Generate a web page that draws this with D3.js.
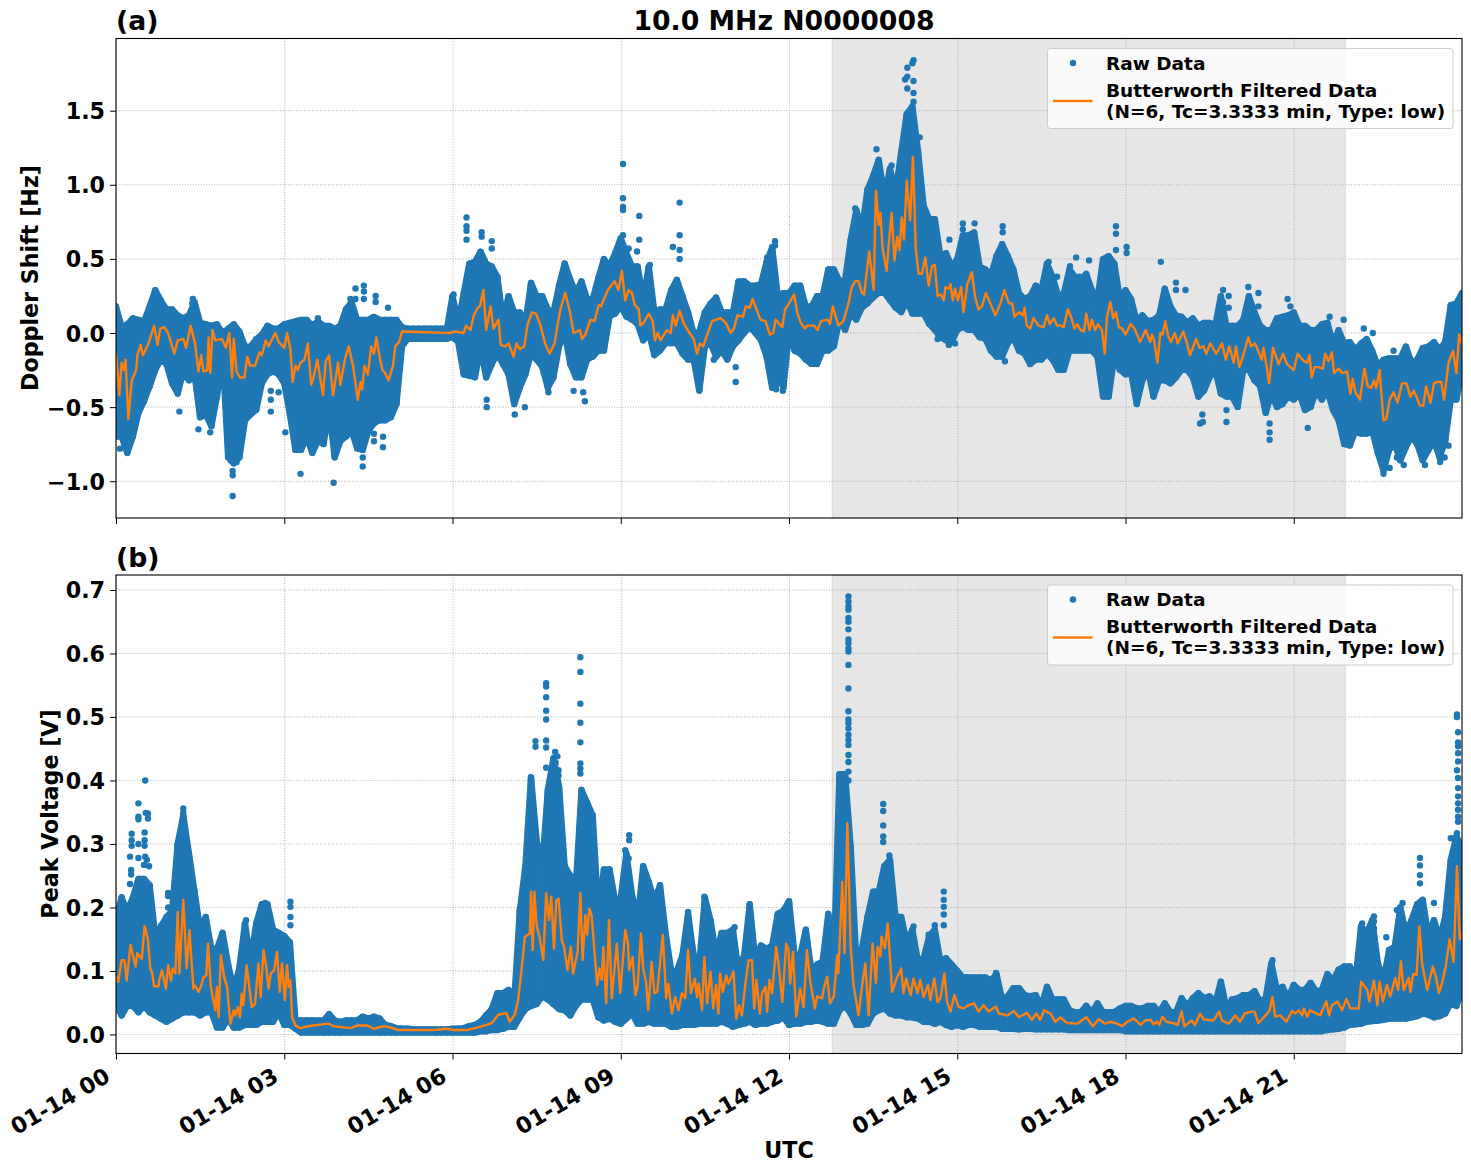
<!DOCTYPE html>
<html>
<head>
<meta charset="utf-8">
<script src="https://cdn.jsdelivr.net/npm/d3@7"></script>
<style>
  html, body { margin: 0; padding: 0; background: #fff; }
  svg { display: block; }
  text { font-family: "DejaVu Sans", sans-serif; font-weight: bold; fill: #000; }
</style>
</head>
<body>
<svg id="chart" width="1471" height="1172"></svg>
<script>
// Time axis, in hours after 01-14 00:00 UTC.
const xTickHours = [0, 3, 6, 9, 12, 15, 18, 21];
const xTickLabels = ["01-14 00", "01-14 03", "01-14 06", "01-14 09", "01-14 12", "01-14 15", "01-14 18", "01-14 21"];
const binStepHours = 0.1;
const shadedHours = [12.77, 21.92];

const dopplerTicks = [-1.0, -0.5, 0.0, 0.5, 1.0, 1.5];
const voltageTicks = [0.0, 0.1, 0.2, 0.3, 0.4, 0.5, 0.6, 0.7];

// Edges of the raw Doppler cloud, one value per 0.1 h bin (Hz).
const dopplerTop = [
  .20,.06,.08,.12,.11,.10,.20,.31,.24,.18,
  .18,.14,.12,.14,.23,.09,.08,.07,.08,.02,
  .05,.08,.03,-.07,-.07,-.02,.01,.07,.05,.05,
  .08,.09,.10,.11,.11,.07,.10,.07,.07,.05,
  .07,.18,.23,.11,.11,.11,.13,.11,.11,.11,
  .11,.06,.05,.05,.05,.05,.05,.05,.05,.05,
  .27,.09,.29,.49,.50,.57,.49,.47,.40,.11,
  .27,.16,.16,.09,.36,.27,.27,.18,.16,.34,
  .49,.38,.29,.37,.25,.25,.39,.52,.47,.56,
  .66,.56,.47,.47,.25,.47,.16,.18,.18,.31,
  .38,.27,.16,.02,.03,.16,.22,.26,.16,.16,
  .16,.37,.37,.34,.34,.35,.50,.60,.27,.29,
  .29,.34,.34,.20,.20,.27,.27,.45,.45,.37,
  .38,.65,.85,.72,.99,1.08,1.19,.94,1.13,.97,
  1.24,1.50,1.55,1.25,.88,.79,.79,.54,.56,.47,
  .52,.68,.68,.70,.47,.45,.41,.54,.62,.54,
  .45,.29,.25,.27,.34,.31,.49,.40,.27,.29,
  .45,.40,.38,.42,.31,.25,.52,.54,.49,.25,
  .31,.25,.10,.14,.10,.11,.14,.32,.20,.14,
  .13,.09,.12,.07,.09,.09,.07,.27,.07,.07,
  .07,.11,.27,.16,.07,.04,.04,.12,.13,.14,
  .16,.07,.07,.04,.04,.08,.09,-.05,.04,-.05,
  -.04,-.09,-.05,-.02,-.10,-.20,-.16,-.15,-.15,-.15,
  -.07,-.18,-.16,-.08,-.07,-.04,-.09,-.04,.21,.22,
  .29];
const dopplerBottom = [
  -.72,-.72,-.83,-.72,-.56,-.48,-.38,-.27,-.20,-.23,
  -.36,-.43,-.28,-.34,-.30,-.59,-.57,-.65,-.45,-.16,
  -.86,-.90,-.86,-.61,-.57,-.54,-.36,-.30,-.28,-.30,
  -.36,-.57,-.81,-.81,-.72,-.83,-.75,-.77,-.54,-.86,
  -.75,-.72,-.68,-.80,-.81,-.68,-.63,-.61,-.61,-.59,
  -.50,-.11,-.06,-.06,-.06,-.06,-.06,-.06,-.06,-.06,
  -.05,-.08,-.30,-.31,-.32,-.12,-.32,-.23,-.16,-.23,
  -.30,-.50,-.39,-.30,-.16,-.20,-.25,-.39,-.32,-.11,
  -.02,-.23,-.32,-.32,-.20,-.18,-.14,-.14,.09,.11,
  .16,.09,.07,.04,-.07,-.02,-.17,-.14,-.09,-.09,
  -.09,-.16,-.20,-.20,-.41,-.11,-.09,-.18,-.14,-.20,
  -.11,-.07,-.02,.02,-.02,-.07,-.18,-.39,-.30,-.39,
  -.02,-.14,-.16,-.20,-.23,-.23,-.14,-.14,-.11,.07,
  0,.11,.07,.15,.18,.22,.25,.25,.20,.15,
  .12,.20,.11,.11,.11,.04,0,-.05,-.07,-.08,
  0,.02,0,0,-.05,-.06,-.14,-.18,-.18,-.09,
  -.05,-.14,-.16,-.23,-.20,-.20,-.16,-.20,-.27,-.27,
  -.14,-.14,-.14,-.14,-.14,-.18,-.45,-.45,-.18,-.27,
  -.30,-.29,-.50,-.34,-.27,-.45,-.34,-.34,-.36,-.32,
  -.27,-.27,-.32,-.45,-.41,-.32,-.27,-.43,-.45,-.45,
  -.52,-.27,-.27,-.34,-.38,-.56,-.43,-.52,-.50,-.45,
  -.47,-.43,-.54,-.52,-.41,-.47,-.41,-.54,-.61,-.77,
  -.78,-.68,-.70,-.70,-.68,-.83,-.95,-.81,-.77,-.88,
  -.79,-.72,-.77,-.88,-.81,-.75,-.86,-.75,-.47,-.47,
  -.27];

// Edges of the raw peak-voltage cloud, one value per 0.1 h bin (V).
const voltageTop = [
  .19,.22,.20,.22,.25,.25,.24,.16,.175,.19,
  .20,.305,.35,.29,.23,.17,.19,.14,.14,.165,
  .115,.075,.11,.18,.12,.18,.21,.21,.17,.165,
  .16,.15,.027,.027,.027,.027,.027,.027,.037,.027,
  .025,.027,.027,.027,.033,.03,.033,.03,.02,.018,
  .015,.014,.014,.013,.013,.013,.013,.013,.013,.013,
  .014,.014,.015,.018,.02,.025,.035,.045,.07,.07,
  .075,.057,.20,.27,.41,.31,.27,.39,.44,.395,
  .27,.255,.24,.39,.37,.35,.195,.265,.265,.215,
  .22,.29,.225,.185,.27,.245,.215,.24,.165,.105,
  .105,.13,.195,.13,.115,.22,.185,.13,.165,.165,
  .17,.105,.13,.21,.12,.145,.14,.145,.195,.20,
  .215,.13,.13,.17,.105,.115,.12,.195,.12,.415,
  .415,.30,.12,.14,.19,.23,.23,.27,.28,.19,
  .19,.15,.17,.12,.125,.16,.17,.12,.125,.115,
  .105,.095,.095,.095,.095,.095,.09,.10,.06,.065,
  .078,.078,.067,.065,.067,.05,.08,.06,.06,.06,
  .043,.04,.04,.05,.04,.054,.04,.04,.04,.046,
  .05,.05,.046,.046,.05,.05,.04,.054,.04,.04,
  .062,.05,.062,.07,.062,.065,.054,.088,.046,.06,
  .062,.067,.067,.073,.057,.062,.117,.075,.08,.062,
  .083,.075,.075,.086,.073,.075,.10,.09,.107,.112,
  .112,.09,.175,.165,.185,.117,.09,.138,.143,.205,
  .165,.185,.21,.217,.16,.185,.155,.19,.28,.317,
  .30];
const voltageBottom = [
  .043,.025,.04,.04,.03,.04,.03,.025,.02,.015,
  .02,.025,.03,.03,.03,.025,.03,.03,.006,.006,
  .02,.006,.006,.01,.01,.01,.015,.015,.015,.03,
  .01,.01,.004,-.002,-.002,-.002,-.002,-.002,-.002,-.002,
  -.002,-.002,-.002,-.002,-.002,-.002,-.002,-.002,-.002,-.002,
  -.002,-.002,-.002,-.002,-.002,-.002,-.002,-.002,-.002,-.002,
  -.002,-.002,-.002,-.002,-.002,0,0,.002,.002,.004,
  .007,.007,.022,.035,.04,.043,.055,.05,.043,.035,
  .033,.025,.04,.05,.05,.05,.022,.017,.02,.015,
  .012,.02,.028,.012,.012,.015,.012,.012,.012,.007,
  .007,.01,.01,.01,.012,.012,.012,.012,.015,.012,
  .007,.01,.012,.015,.01,.012,.012,.015,.017,.022,
  .01,.012,.012,.015,.015,.017,.015,.012,.012,.033,
  .04,.028,.01,.01,.012,.028,.033,.036,.028,.025,
  .025,.022,.022,.02,.015,.015,.012,.015,.01,.007,
  .01,.007,.01,.01,.007,.007,.007,.007,.004,.004,
  .004,.003,.004,.004,.003,.003,.003,.003,.003,.003,
  .002,.002,.002,.002,.002,.002,.002,.002,.002,.002,
  0,0,0,0,0,0,0,0,0,0,
  0,0,0,0,0,0,0,0,0,0,
  0,0,0,0,0,0,0,0,0,0,
  0,0,0,0,0,0,.002,.003,.004,.006,
  .01,.011,.012,.015,.016,.017,.018,.02,.02,.02,
  .02,.022,.024,.028,.026,.022,.024,.028,.045,.04,
  .065];

// Isolated raw samples standing clear of the cloud: [hour, Hz].
const dopplerSingles = [
  [2.08,-1.10],[3.29,-.95],[3.88,-1.01],[4.40,-.90],[4.40,-.84],[4.76,-.77],[4.60,-.68],[4.60,-.73],[4.76,-.70],
  [1.47,-.65],[1.68,-.67],[1.13,-.53],[.07,-.78],[2.08,-.96],[2.08,-.93],[2.15,-.87],[2.05,-.86],[3.02,-.67],
  [4.42,.32],[4.42,.28],[4.42,.23],[4.27,.30],[4.27,.23],[4.18,.23],[4.63,.25],[4.63,.21],[4.85,.17],[1.37,.23],
  [1.36,.20],[6.02,.26],[6.02,.20],[2.76,-.39],[2.90,-.40],[2.76,-.45],[2.76,-.53],[3.60,.10],
  [6.25,.78],[6.25,.72],[6.25,.69],[6.25,.63],[6.52,.68],[6.52,.65],[6.70,.62],[6.70,.57],[6.61,-.45],[6.61,-.50],
  [7.11,-.45],[7.11,-.55],[7.29,-.50],[7.71,-.40],[8.16,-.39],[8.33,-.40],[8.36,-.46],[9.04,1.14],[9.04,.91],
  [9.04,.85],[9.04,.83],[9.04,.66],[9.33,.79],[9.33,.63],[9.29,.55],[9.14,.57],[10.05,.88],[10.05,.66],[10.05,.56],
  [9.93,.58],[10.05,.50],[9.52,.46],[11.75,.62],[11.75,.59],[11.61,.51],[11.61,.48],[11.05,-.33],[11.05,-.23],
  [11.77,-.35],[11.77,-.38],[11.89,-.34],[11.89,-.39],[11.64,-.23],[10.66,-.18],
  [17.83,.72],[17.83,.67],[17.83,.56],[18.02,.58],[18.02,.54],[17.12,.51],[17.01,.45],[17.35,.49],[17.18,.38],
  [17.18,.31],[15.85,-.19],[14.33,1.32],[14.65,-.04],[14.85,-.08],[14.96,-.07],[15.81,.72],[15.81,.68],[15.31,.74],
  [15.10,.74],[15.10,.70],[14.86,.63],[16.63,.48],[16.78,.38],[14.22,1.84],[14.20,1.82],[14.11,1.79],[14.07,1.71],
  [14.11,1.73],[14.22,1.70],[14.22,1.62],[14.22,1.56],[14.11,1.65],[13.56,1.24],[13.83,1.13],[13.18,.84],[13.18,.77],
  [18.63,.48],[18.90,.34],[18.90,.29],[19.07,.29],[19.74,.29],[19.74,.21],[19.84,.25],[19.84,.17],[20.89,.23],
  [20.94,.18],[20.19,.31],[20.37,.27],[20.37,.18],[21.64,.11],[21.89,.09],[22.25,.03],[22.41,0],[22.78,-.12],
  [20.57,-.72],[20.57,-.67],[20.57,-.61],[21.25,-.64],[19.80,-.52],[19.80,-.60],[19.37,-.55],[19.33,-.61],[19.38,-.60],
  [22.71,-.91],[22.60,-.95],[22.96,-.89],[23.34,-.89],[23.61,-.87],[23.76,-.76],[23.69,-.84],[22.84,-.84]
];

// Isolated raw samples above the voltage cloud: [hour, V].
const voltageSingles = [
  [.52,.40],[.40,.364],[.40,.343],[.40,.339],[.53,.349],[.57,.348],[.57,.34],[.28,.316],[.28,.306],[.28,.297],
  [.40,.30],[.51,.318],[.51,.306],[.51,.297],[.25,.28],[.40,.278],[.27,.259],[.27,.252],[.25,.237],[.52,.28],
  [.55,.275],[.50,.267],[.59,.265],[.10,.216],[.10,.209],[1.20,.356],[1.20,.349],[1.20,.333],[1.17,.325],
  [1.10,.298],[1.10,.285],[.93,.223],[.93,.218],[.93,.20],[.81,.172],[3.11,.209],[3.11,.201],[3.11,.185],[3.11,.172],
  [2.66,.207],[2.63,.20],[2.32,.18],
  [8.28,.594],[8.28,.571],[8.28,.521],[8.28,.491],[8.28,.46],[8.28,.427],[8.28,.419],[8.28,.411],[7.67,.553],[7.67,.548],
  [7.67,.531],[7.67,.51],[7.67,.496],[7.67,.463],[7.67,.452],[7.48,.462],[7.48,.453],[7.83,.445],[7.87,.438],[7.84,.428],
  [7.67,.42],[7.79,.407],[7.89,.416],[7.89,.408],[9.15,.314],[9.15,.306],[9.08,.29],[9.14,.277],[10.49,.217],[10.49,.198],
  [11.03,.169],[10.20,.193],
  [13.06,.69],[13.06,.682],[13.06,.674],[13.06,.669],[13.06,.656],[13.06,.65],[13.06,.638],[13.06,.622],[13.06,.616],
  [13.06,.608],[13.06,.603],[13.06,.582],[13.06,.545],[13.06,.509],[13.06,.496],[13.06,.49],[13.06,.482],[13.06,.472],
  [13.06,.464],[13.06,.456],[13.06,.44],[13.06,.429],[13.06,.414],[13.06,.40],
  [13.68,.363],[13.68,.352],[13.68,.329],[13.68,.312],[13.68,.303],[13.79,.282],[14.76,.225],[14.76,.212],[14.76,.201],
  [14.76,.189],[14.76,.172],[14.60,.172],[14.60,.162],[14.49,.157],[14.22,.17],[15.69,.097],[15.18,.09],
  [23.91,.504],[23.91,.50],[23.93,.476],[23.93,.46],[23.93,.454],[23.93,.443],[23.93,.43],[23.91,.416],[23.93,.404],
  [23.93,.388],[23.93,.375],[23.93,.364],[23.93,.354],[23.93,.343],[23.93,.335],[23.91,.317],[23.80,.309],[23.25,.278],
  [23.25,.266],[23.25,.251],[23.25,.238],[23.50,.207],[22.94,.207],[22.84,.196],[22.43,.186],[22.43,.178],[22.43,.167],
  [22.22,.175],[22.65,.153],[20.62,.117]
];

// Butterworth low-pass output for the Doppler shift: [hour, Hz].
const dopplerFiltered = [
  [0,-.14],[.06,-.42],[.10,-.20],[.14,-.25],[.17,-.18],[.22,-.58],[.28,-.32],[.36,-.25],[.38,-.15],[.44,-.08],[.48,-.15],
  [.58,-.07],[.68,.05],[.74,-.08],[.79,.03],[.86,.04],[.93,0],[1.04,-.14],[1.10,-.05],[1.20,-.04],[1.25,-.10],[1.33,.05],
  [1.41,-.07],[1.47,-.26],[1.52,-.15],[1.56,-.26],[1.63,-.25],[1.65,-.03],[1.68,-.27],[1.72,.02],[1.77,-.05],[1.89,-.04],
  [1.96,-.10],[2.02,0],[2.07,-.30],[2.10,-.04],[2.15,-.26],[2.21,-.30],[2.29,-.30],[2.34,-.16],[2.39,-.22],[2.48,-.22],
  [2.56,-.13],[2.60,-.15],[2.67,-.05],[2.72,-.09],[2.84,0],[2.90,-.06],[3.00,-.10],[3.05,0],[3.11,-.11],[3.15,-.33],
  [3.20,-.22],[3.24,-.25],[3.29,-.20],[3.36,-.18],[3.42,-.07],[3.48,-.35],[3.52,-.30],[3.59,-.18],[3.69,-.42],[3.74,-.19],
  [3.80,-.15],[3.87,-.42],[3.96,-.20],[4.00,-.35],[4.08,-.18],[4.15,-.09],[4.23,-.23],[4.31,-.45],[4.36,-.33],[4.39,-.38],
  [4.43,-.22],[4.49,-.28],[4.55,-.09],[4.60,-.14],[4.64,-.03],[4.70,-.16],[4.75,-.25],[4.80,-.27],[4.86,-.32],[4.94,-.22],
  [4.98,-.09],[5.05,-.06],[5.10,.01],[5.95,0],[6.04,.01],[6.20,0],[6.24,.05],[6.32,.02],[6.38,.12],[6.45,.17],[6.49,.18],
  [6.55,.29],[6.60,.02],[6.68,.18],[6.73,.03],[6.82,.09],[6.86,-.08],[6.94,-.09],[7.00,-.07],[7.09,-.16],[7.14,-.07],
  [7.20,-.11],[7.28,-.09],[7.34,.06],[7.42,.14],[7.49,.13],[7.57,.05],[7.65,-.07],[7.73,-.14],[7.82,-.07],[7.88,.07],
  [7.93,.17],[8.01,.27],[8.09,.15],[8.16,0],[8.27,.02],[8.31,-.04],[8.37,-.01],[8.46,.09],[8.53,.08],[8.61,.19],[8.65,.18],
  [8.70,.23],[8.77,.29],[8.89,.35],[8.96,.29],[9.02,.42],[9.08,.22],[9.14,.29],[9.20,.27],[9.25,.19],[9.32,.16],[9.35,.05],
  [9.41,.07],[9.50,.13],[9.57,.08],[9.61,-.05],[9.66,0],[9.71,-.05],[9.82,.02],[9.89,0],[9.93,.12],[9.98,.05],[10.05,.15],
  [10.13,.06],[10.21,.01],[10.30,-.04],[10.36,-.14],[10.41,-.07],[10.47,-.09],[10.57,.02],[10.63,.08],[10.78,.10],[10.87,.07],
  [10.96,0],[11.02,.03],[11.08,.12],[11.18,.11],[11.23,.18],[11.30,.17],[11.35,.23],[11.40,.18],[11.49,.09],[11.58,.08],
  [11.66,-.01],[11.72,0],[11.76,.09],[11.88,.04],[11.93,.16],[12.00,.20],[12.09,.26],[12.15,.13],[12.21,.07],[12.28,.03],
  [12.33,.05],[12.45,.05],[12.51,.02],[12.57,.08],[12.69,.09],[12.73,.06],[12.78,.18],[12.88,.05],[12.97,.08],[13.06,.20],
  [13.12,.31],[13.18,.35],[13.24,.35],[13.30,.27],[13.34,.26],[13.43,.55],[13.51,.29],[13.55,.96],[13.60,.73],[13.63,.81],
  [13.67,.57],[13.74,.42],[13.79,.65],[13.83,.81],[13.88,.49],[13.93,.65],[13.97,.56],[14.01,.78],[14.05,.63],[14.10,1.03],
  [14.16,.76],[14.21,1.19],[14.26,.57],[14.31,.40],[14.37,.40],[14.43,.51],[14.49,.32],[14.55,.45],[14.60,.46],[14.65,.25],
  [14.71,.26],[14.76,.22],[14.79,.31],[14.85,.30],[14.88,.33],[14.92,.22],[14.96,.30],[15.01,.22],[15.07,.31],[15.11,.14],
  [15.18,.33],[15.26,.41],[15.32,.24],[15.38,.16],[15.44,.18],[15.51,.27],[15.59,.20],[15.68,.12],[15.77,.20],[15.84,.29],
  [15.92,.20],[15.98,.20],[16.02,.11],[16.10,.14],[16.17,.12],[16.20,.17],[16.24,.05],[16.30,.03],[16.36,.10],[16.45,.05],
  [16.54,.04],[16.60,.12],[16.65,.06],[16.72,.10],[16.78,.05],[16.85,.05],[16.90,.04],[16.97,.16],[17.03,.11],[17.09,.03],
  [17.14,.06],[17.20,.02],[17.26,.01],[17.30,.13],[17.36,.02],[17.40,.09],[17.46,.02],[17.51,.06],[17.58,.02],[17.63,-.14],
  [17.67,.11],[17.73,.21],[17.78,.10],[17.83,.14],[17.88,.04],[17.94,.03],[18.00,-.01],[18.09,.06],[18.16,.03],[18.26,-.06],
  [18.36,.02],[18.44,-.06],[18.47,-.01],[18.51,-.05],[18.57,-.20],[18.62,0],[18.66,-.01],[18.71,.08],[18.76,-.02],[18.81,-.06],
  [18.88,0],[18.93,-.07],[19.03,.01],[19.09,-.06],[19.15,-.15],[19.26,-.04],[19.32,-.10],[19.39,-.09],[19.44,-.14],[19.51,-.07],
  [19.62,-.14],[19.72,-.07],[19.79,-.18],[19.85,-.09],[19.93,-.20],[19.97,-.09],[20.03,-.23],[20.10,-.15],[20.19,-.03],[20.24,-.09],
  [20.31,-.07],[20.43,-.18],[20.46,-.10],[20.51,-.21],[20.56,-.34],[20.63,-.10],[20.73,-.21],[20.81,-.14],[20.88,-.21],[20.94,-.23],
  [21.00,-.25],[21.07,-.14],[21.18,-.19],[21.24,-.20],[21.28,-.15],[21.32,-.30],[21.37,-.23],[21.44,-.23],[21.52,-.24],[21.56,-.14],
  [21.62,-.19],[21.68,-.13],[21.72,-.27],[21.80,-.24],[21.86,-.27],[21.95,-.26],[22.01,-.41],[22.05,-.31],[22.10,-.40],[22.18,-.45],
  [22.26,-.24],[22.32,-.36],[22.38,-.37],[22.43,-.32],[22.47,-.37],[22.53,-.25],[22.60,-.59],[22.65,-.58],[22.71,-.45],[22.78,-.40],
  [22.85,-.47],[22.93,-.34],[23.01,-.34],[23.08,-.43],[23.14,-.39],[23.20,-.44],[23.25,-.49],[23.31,-.49],[23.36,-.36],[23.44,-.47],
  [23.50,-.34],[23.56,-.33],[23.63,-.33],[23.68,-.45],[23.76,-.20],[23.84,-.12],[23.90,-.27],[23.95,-.01],[24.00,-.07]
];

// Butterworth low-pass output for the peak voltage: [hour, V].
const voltageFiltered = [
  [0,.093],[.04,.083],[.10,.117],[.15,.117],[.19,.085],[.26,.141],[.31,.122],[.35,.107],[.38,.128],[.46,.119],[.51,.171],
  [.57,.149],[.61,.104],[.64,.099],[.68,.076],[.76,.076],[.77,.085],[.82,.101],[.89,.072],[.93,.109],[.98,.085],[1.01,.104],
  [1.06,.096],[1.10,.193],[1.13,.096],[1.20,.212],[1.26,.104],[1.31,.164],[1.38,.072],[1.41,.077],[1.47,.067],[1.52,.077],
  [1.56,.09],[1.61,.093],[1.64,.143],[1.69,.075],[1.77,.038],[1.80,.075],[1.83,.027],[1.87,.125],[1.93,.09],[1.98,.075],
  [2.04,.017],[2.10,.038],[2.13,.03],[2.17,.043],[2.21,.027],[2.24,.064],[2.27,.046],[2.33,.109],[2.38,.072],[2.42,.043],
  [2.48,.048],[2.54,.112],[2.58,.059],[2.63,.133],[2.68,.106],[2.72,.072],[2.76,.096],[2.82,.101],[2.87,.13],[2.92,.067],
  [2.96,.112],[3.01,.054],[3.05,.109],[3.08,.075],[3.11,.085],[3.14,.027],[3.20,.014],[3.29,.01],[3.43,.013],[3.52,.014],
  [3.79,.017],[3.88,.013],[4.18,.01],[4.30,.014],[4.48,.014],[4.60,.009],[4.77,.013],[4.86,.012],[5.04,.007],[5.67,.007],
  [5.90,.009],[6.02,.007],[6.26,.007],[6.49,.012],[6.61,.015],[6.70,.018],[6.82,.031],[6.96,.034],[7.02,.02],[7.11,.031],
  [7.17,.054],[7.23,.101],[7.29,.154],[7.38,.159],[7.40,.225],[7.43,.133],[7.46,.225],[7.50,.172],[7.55,.154],[7.62,.117],
  [7.67,.223],[7.72,.18],[7.76,.217],[7.81,.135],[7.85,.211],[7.89,.214],[7.95,.148],[7.99,.138],[8.05,.101],[8.11,.138],
  [8.15,.096],[8.23,.13],[8.28,.223],[8.32,.117],[8.37,.188],[8.40,.157],[8.44,.198],[8.48,.188],[8.54,.122],[8.58,.078],
  [8.62,.104],[8.66,.086],[8.69,.138],[8.74,.049],[8.79,.18],[8.84,.057],[8.93,.143],[8.99,.065],[9.08,.164],[9.13,.143],
  [9.15,.101],[9.21,.122],[9.26,.062],[9.30,.075],[9.36,.159],[9.40,.104],[9.45,.083],[9.49,.038],[9.55,.114],[9.60,.065],
  [9.65,.067],[9.75,.157],[9.81,.057],[9.85,.08],[9.91,.033],[9.97,.059],[10.03,.038],[10.09,.065],[10.15,.057],[10.20,.133],
  [10.25,.065],[10.32,.088],[10.36,.059],[10.39,.08],[10.45,.038],[10.49,.122],[10.54,.049],[10.60,.099],[10.65,.041],[10.70,.078],
  [10.74,.033],[10.77,.096],[10.82,.067],[10.88,.093],[10.92,.08],[10.96,.088],[11.01,.099],[11.06,.025],[11.11,.046],[11.16,.03],
  [11.22,.078],[11.28,.117],[11.34,.117],[11.38,.041],[11.42,.086],[11.48,.033],[11.52,.065],[11.58,.075],[11.61,.036],[11.65,.086],
  [11.70,.065],[11.77,.138],[11.82,.107],[11.88,.051],[11.95,.143],[11.99,.133],[12.02,.08],[12.07,.13],[12.13,.028],[12.20,.072],
  [12.26,.043],[12.32,.133],[12.38,.083],[12.46,.041],[12.50,.06],[12.59,.057],[12.62,.072],[12.68,.091],[12.73,.049],[12.80,.06],
  [12.86,.125],[12.88,.096],[12.95,.24],[12.99,.128],[13.04,.333],[13.10,.138],[13.15,.078],[13.24,.03],[13.30,.075],[13.36,.112],
  [13.42,.03],[13.49,.143],[13.55,.081],[13.58,.138],[13.63,.123],[13.65,.154],[13.71,.136],[13.76,.175],[13.84,.067],[13.91,.086],
  [14.00,.104],[14.04,.065],[14.09,.088],[14.17,.062],[14.22,.088],[14.29,.065],[14.34,.086],[14.40,.059],[14.48,.078],[14.52,.054],
  [14.59,.088],[14.65,.051],[14.70,.057],[14.77,.096],[14.82,.051],[14.88,.036],[14.95,.062],[15.02,.044],[15.11,.041],[15.20,.046],
  [15.30,.049],[15.38,.036],[15.47,.046],[15.56,.036],[15.69,.044],[15.74,.033],[15.89,.03],[16.01,.037],[16.10,.027],[16.24,.034],
  [16.33,.023],[16.41,.033],[16.48,.023],[16.55,.038],[16.66,.033],[16.75,.02],[16.84,.027],[16.96,.018],[17.14,.017],[17.30,.027],
  [17.42,.013],[17.52,.024],[17.64,.017],[17.73,.02],[17.85,.017],[17.94,.013],[18.03,.02],[18.15,.025],[18.27,.015],[18.35,.022],
  [18.45,.023],[18.50,.016],[18.56,.02],[18.60,.015],[18.66,.028],[18.73,.02],[18.88,.017],[18.93,.015],[19.00,.036],[19.05,.013],
  [19.18,.022],[19.24,.015],[19.33,.033],[19.39,.024],[19.57,.022],[19.67,.036],[19.72,.022],[19.84,.017],[19.96,.03],[20.04,.02],
  [20.13,.033],[20.25,.036],[20.30,.036],[20.37,.018],[20.52,.032],[20.57,.038],[20.62,.059],[20.67,.028],[20.76,.03],[20.87,.02],
  [20.97,.037],[21.03,.033],[21.09,.038],[21.15,.03],[21.18,.041],[21.24,.028],[21.29,.038],[21.47,.03],[21.58,.052],[21.63,.03],
  [21.68,.046],[21.78,.052],[21.86,.038],[21.94,.056],[22.01,.041],[22.16,.041],[22.20,.083],[22.31,.07],[22.35,.052],[22.43,.085],
  [22.49,.046],[22.53,.083],[22.59,.052],[22.66,.078],[22.72,.06],[22.81,.089],[22.86,.07],[22.91,.115],[22.96,.07],[23.05,.089],
  [23.08,.067],[23.13,.095],[23.19,.094],[23.24,.17],[23.29,.11],[23.38,.07],[23.48,.107],[23.54,.089],[23.59,.065],[23.65,.083],
  [23.71,.107],[23.78,.15],[23.85,.114],[23.91,.265],[23.96,.15],[24.00,.16]
];

const BLUE = "#1f77b4", ORANGE = "#ff7f0e", GRID = "#b0b0b0";
const dotRadius = 3.2;
const left = 116, right = 1462;
const tickFont = 22.2, titleFont = 26.7, legendFont = 18.5;

const svg = d3.select("#chart");
const x = d3.scaleLinear().domain([0, 24]).range([left, right]);

function drawPanel(cfg) {
  const y = d3.scaleLinear().domain(cfg.domain).range([cfg.bottom, cfg.top]);
  const clipId = "clip-" + cfg.key;
  svg.append("clipPath").attr("id", clipId).append("rect")
    .attr("x", left).attr("y", cfg.top).attr("width", right - left).attr("height", cfg.bottom - cfg.top);

  const g = svg.append("g");

  // Shaded interval sits beneath everything else in the axes.
  g.append("rect")
    .attr("x", x(shadedHours[0])).attr("width", x(shadedHours[1]) - x(shadedHours[0]))
    .attr("y", cfg.top).attr("height", cfg.bottom - cfg.top)
    .attr("fill", "#808080").attr("fill-opacity", 0.2)
    .attr("stroke", "#808080").attr("stroke-opacity", 0.2);

  // Axes supply the ticks; the dotted grid shares their positions.
  const xAxis = d3.axisBottom(x).tickValues(xTickHours).tickSize(6).tickSizeOuter(0)
    .tickFormat(cfg.showDates ? (d, i) => xTickLabels[i] : "");
  const yAxis = d3.axisLeft(y).tickValues(cfg.ticks).tickSize(6).tickSizeOuter(0)
    .tickFormat(d => d3.format(".1f")(d).replace("-", "\u2212"));

  const grid = g.append("g").attr("fill", "none").attr("stroke", GRID).attr("stroke-width", 1).attr("stroke-dasharray", "1,1.65");
  grid.selectAll("line.v").data(xTickHours).join("line").attr("class", "v")
    .attr("x1", d => x(d) + 0.5).attr("x2", d => x(d) + 0.5).attr("y1", cfg.top).attr("y2", cfg.bottom);
  grid.selectAll("line.h").data(cfg.ticks).join("line").attr("class", "h")
    .attr("x1", left).attr("x2", right).attr("y1", d => y(d)).attr("y2", d => y(d));

  const marks = g.append("g").attr("clip-path", `url(#${clipId})`);

  // Raw cloud: a filled band between the edges plus one round-capped column per time bin,
  // both inset by a dot radius so the outer edge lands on the envelope.
  const columns = cfg.rawTop.map((t, i) => {
    const yt = y(t), yb = y(cfg.rawBottom[i]), mid = (yt + yb) / 2;
    return { hour: +(i * binStepHours).toFixed(1), y1: Math.min(yt + dotRadius, mid), y2: Math.max(yb - dotRadius, mid) };
  });
  const band = d3.area().x(d => x(d.hour)).y0(d => d.y2).y1(d => d.y1);
  marks.append("path").attr("d", band(columns)).attr("fill", BLUE)
    .attr("stroke", BLUE).attr("stroke-width", dotRadius * 2).attr("stroke-linejoin", "round");
  marks.append("g").attr("stroke", BLUE).attr("stroke-width", dotRadius * 2).attr("stroke-linecap", "round")
    .selectAll("line").data(columns).join("line")
    .attr("x1", d => x(d.hour)).attr("x2", d => x(d.hour))
    .attr("y1", d => d.y1).attr("y2", d => d.y2);

  marks.append("g").attr("fill", BLUE).selectAll("circle").data(cfg.singles).join("circle")
    .attr("cx", d => x(d[0])).attr("cy", d => y(d[1])).attr("r", dotRadius);

  const line = d3.line().x(d => x(d[0])).y(d => y(d[1]));
  marks.append("path").attr("d", line(cfg.filtered)).attr("fill", "none")
    .attr("stroke", ORANGE).attr("stroke-width", 2.4).attr("stroke-linejoin", "round");

  // Tick marks and labels.
  const xg = g.append("g").attr("transform", `translate(0,${cfg.bottom})`).call(xAxis);
  xg.select(".domain").remove();
  xg.selectAll("line").attr("stroke", "#000").attr("stroke-width", 1);
  const yg = g.append("g").attr("transform", `translate(${left},0)`).call(yAxis);
  yg.select(".domain").remove();
  yg.selectAll("line").attr("stroke", "#000").attr("stroke-width", 1);
  yg.selectAll("text").attr("font-size", tickFont).attr("x", -11).attr("dy", "0.36em");
  if (cfg.showDates) {
    xg.selectAll("text").attr("font-size", tickFont).attr("text-anchor", "end")
      .attr("y", 0).attr("dy", 0)
      .attr("transform", "translate(-5,27) rotate(-30)");
  }

  // Frame.
  g.append("rect").attr("x", left).attr("y", cfg.top).attr("width", right - left).attr("height", cfg.bottom - cfg.top)
    .attr("fill", "none").attr("stroke", "#000").attr("stroke-width", 1.1);

  // Panel tag.
  g.append("text").attr("x", left).attr("y", cfg.top - 8.5).attr("font-size", titleFont).text(cfg.tag);

  // Y label.
  g.append("text").attr("transform", `translate(${cfg.labelX},${cfg.labelY}) rotate(-90)`)
    .attr("text-anchor", "middle").attr("font-size", tickFont).text(cfg.yLabel);

  // Legend.
  const lg = g.append("g").attr("transform", `translate(1047.5,${cfg.top + 10})`);
  lg.append("rect").attr("width", 405.5).attr("height", 80).attr("rx", 3)
    .attr("fill", "#fff").attr("fill-opacity", 0.8).attr("stroke", "#ccc").attr("stroke-width", 1);
  lg.append("circle").attr("cx", 25.5).attr("cy", 14.5).attr("r", 3.2).attr("fill", BLUE);
  lg.append("line").attr("x1", 5.5).attr("x2", 45).attr("y1", 52.5).attr("y2", 52.5).attr("stroke", ORANGE).attr("stroke-width", 2.4);
  lg.append("text").attr("x", 58.5).attr("y", 21).attr("font-size", legendFont).text("Raw Data");
  lg.append("text").attr("x", 58.5).attr("y", 48).attr("font-size", legendFont).text("Butterworth Filtered Data");
  lg.append("text").attr("x", 58.5).attr("y", 69).attr("font-size", legendFont).text("(N=6, Tc=3.3333 min, Type: low)");
}

drawPanel({
  key: "doppler", tag: "(a)", top: 38.5, bottom: 518, domain: [-1.248, 1.987], ticks: dopplerTicks,
  rawTop: dopplerTop, rawBottom: dopplerBottom, singles: dopplerSingles, filtered: dopplerFiltered,
  yLabel: "Doppler Shift [Hz]", labelX: 38, labelY: 278, showDates: false
});
drawPanel({
  key: "voltage", tag: "(b)", top: 575, bottom: 1053.5, domain: [-0.030, 0.7236], ticks: voltageTicks,
  rawTop: voltageTop, rawBottom: voltageBottom, singles: voltageSingles, filtered: voltageFiltered,
  yLabel: "Peak Voltage [V]", labelX: 58, labelY: 814, showDates: true
});

svg.append("text").attr("x", 784).attr("y", 30).attr("text-anchor", "middle").attr("font-size", titleFont).text("10.0 MHz N0000008");
svg.append("text").attr("x", 789).attr("y", 1158).attr("text-anchor", "middle").attr("font-size", tickFont).text("UTC");
</script>
</body>
</html>
